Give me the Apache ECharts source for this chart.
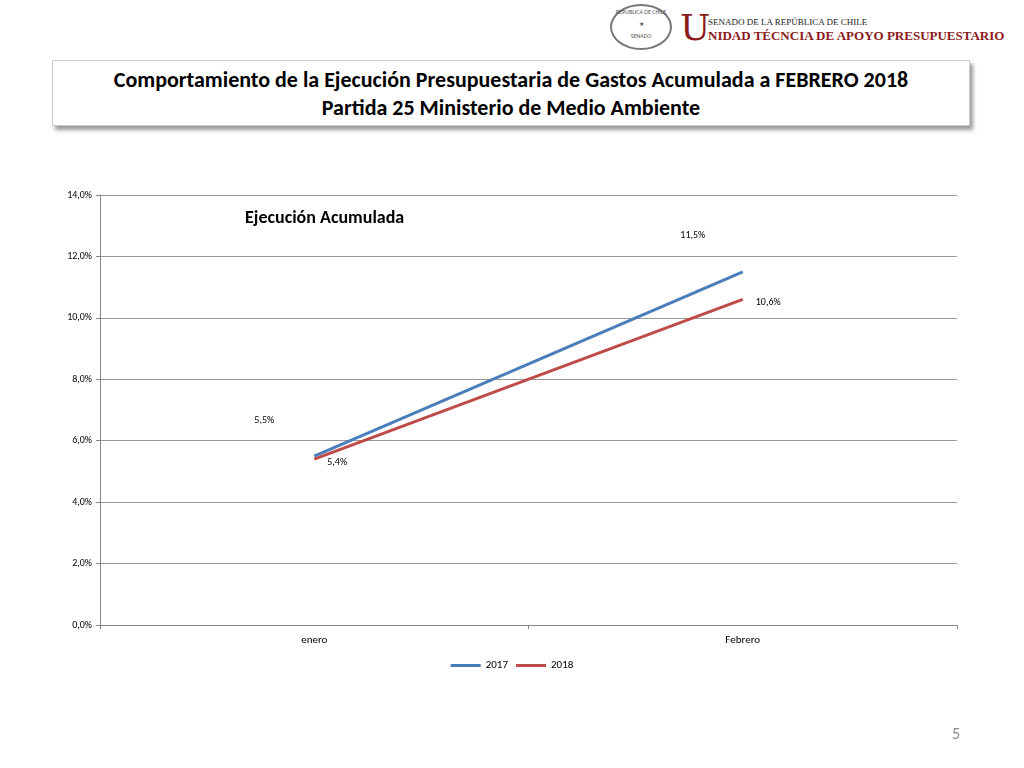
<!DOCTYPE html>
<html><head><meta charset="utf-8">
<script src="https://cdn.jsdelivr.net/npm/echarts@6/dist/echarts.min.js"></script>
<style>
body{margin:0;width:1024px;height:768px;background:#fff;font-family:Calibri,"Liberation Sans",Carlito,sans-serif;position:relative;overflow:hidden}
#box{position:absolute;left:52px;top:60px;width:918px;height:66px;border:1px solid #ccc;box-shadow:3px 4px 4px #999;background:#fff;text-align:center;font-weight:bold;font-size:22px;line-height:28px;padding-top:5px;box-sizing:border-box;color:#000;white-space:nowrap}
#chart{position:absolute;left:0;top:0;width:1024px;height:768px}
#hdr{position:absolute;left:610px;top:4px;width:410px;height:50px;white-space:nowrap}
#logo{position:absolute;left:0;top:0;width:62px;height:46px;border:2px solid #777;border-radius:50%;font-size:6px;text-align:center;color:#555;line-height:12px;box-sizing:border-box}
#u{position:absolute;left:70px;top:4px;font-family:"DejaVu Serif",serif;font-size:36px;color:#8b1a1a;line-height:40px}
#t1{position:absolute;left:98px;top:13px;font-family:"Liberation Serif",serif;font-size:9px;color:#222}
#t2{position:absolute;left:98px;top:24px;font-family:"Liberation Serif",serif;font-size:13px;font-weight:bold;color:#8b1a1a}
#pg{position:absolute;left:952px;top:724px;font-size:16px;color:#888}
</style></head><body>
<div id="hdr"><div id="logo">REPÚBLICA DE CHILE<br>★<br>SENADO</div><div id="u">U</div><div id="t1">SENADO DE LA REPÚBLICA DE CHILE</div><div id="t2">NIDAD TÉCNCIA DE APOYO PRESUPUESTARIO</div></div>
<div id="box">Comportamiento de la Ejecución Presupuestaria de Gastos Acumulada a FEBRERO 2018<br>Partida 25 Ministerio de Medio Ambiente</div>
<div id="chart"></div>
<div id="pg">5</div>
<script>
const categories=["enero","Febrero"];
const s2017=[5.5,11.5];
const s2018=[5.4,10.6];
const fmt=v=>v.toFixed(1).replace('.',',')+'%';
const c=echarts.init(document.getElementById('chart'));
c.setOption({
 animation:false,
 textStyle:{fontFamily:'Carlito, "Liberation Sans", sans-serif'},
 title:{text:'Ejecución Acumulada',left:240,top:204,textStyle:{fontSize:18,fontWeight:'bold',color:'#000'}},
 grid:{left:100,right:67,top:195,bottom:143},
 legend:{bottom:92,left:'center',itemWidth:30,itemHeight:3,icon:'rect',textStyle:{fontSize:11,color:'#000'},data:['2017','2018']},
 xAxis:{type:'category',data:categories,boundaryGap:true,axisLine:{lineStyle:{color:'#888'}},axisTick:{show:true,length:4,lineStyle:{color:'#888'}},axisLabel:{color:'#000',fontSize:11,margin:10}},
 yAxis:{type:'value',min:0,max:14,interval:2,axisLine:{show:true,lineStyle:{color:'#888'}},axisTick:{show:true,length:4,lineStyle:{color:'#888'}},splitLine:{lineStyle:{color:'#999'}},axisLabel:{color:'#000',fontSize:10,formatter:v=>fmt(v)}},
 series:[
  {name:'2017',type:'line',data:s2017,symbol:'circle',symbolSize:0.1,showSymbol:true,lineStyle:{width:3,color:'#4a7ebb'},itemStyle:{color:'#4a7ebb'},
   label:{show:true,position:'top',offset:[-50,-26],fontSize:10,color:'#000',formatter:p=>fmt(p.value)}},
  {name:'2018',type:'line',data:s2018,symbol:'circle',symbolSize:0.1,showSymbol:true,lineStyle:{width:3,color:'#be4b48'},itemStyle:{color:'#be4b48'},
   label:{show:true,position:'right',offset:[8,3],fontSize:10,color:'#000',formatter:p=>fmt(p.value)}}
 ]
});
</script></body></html>
